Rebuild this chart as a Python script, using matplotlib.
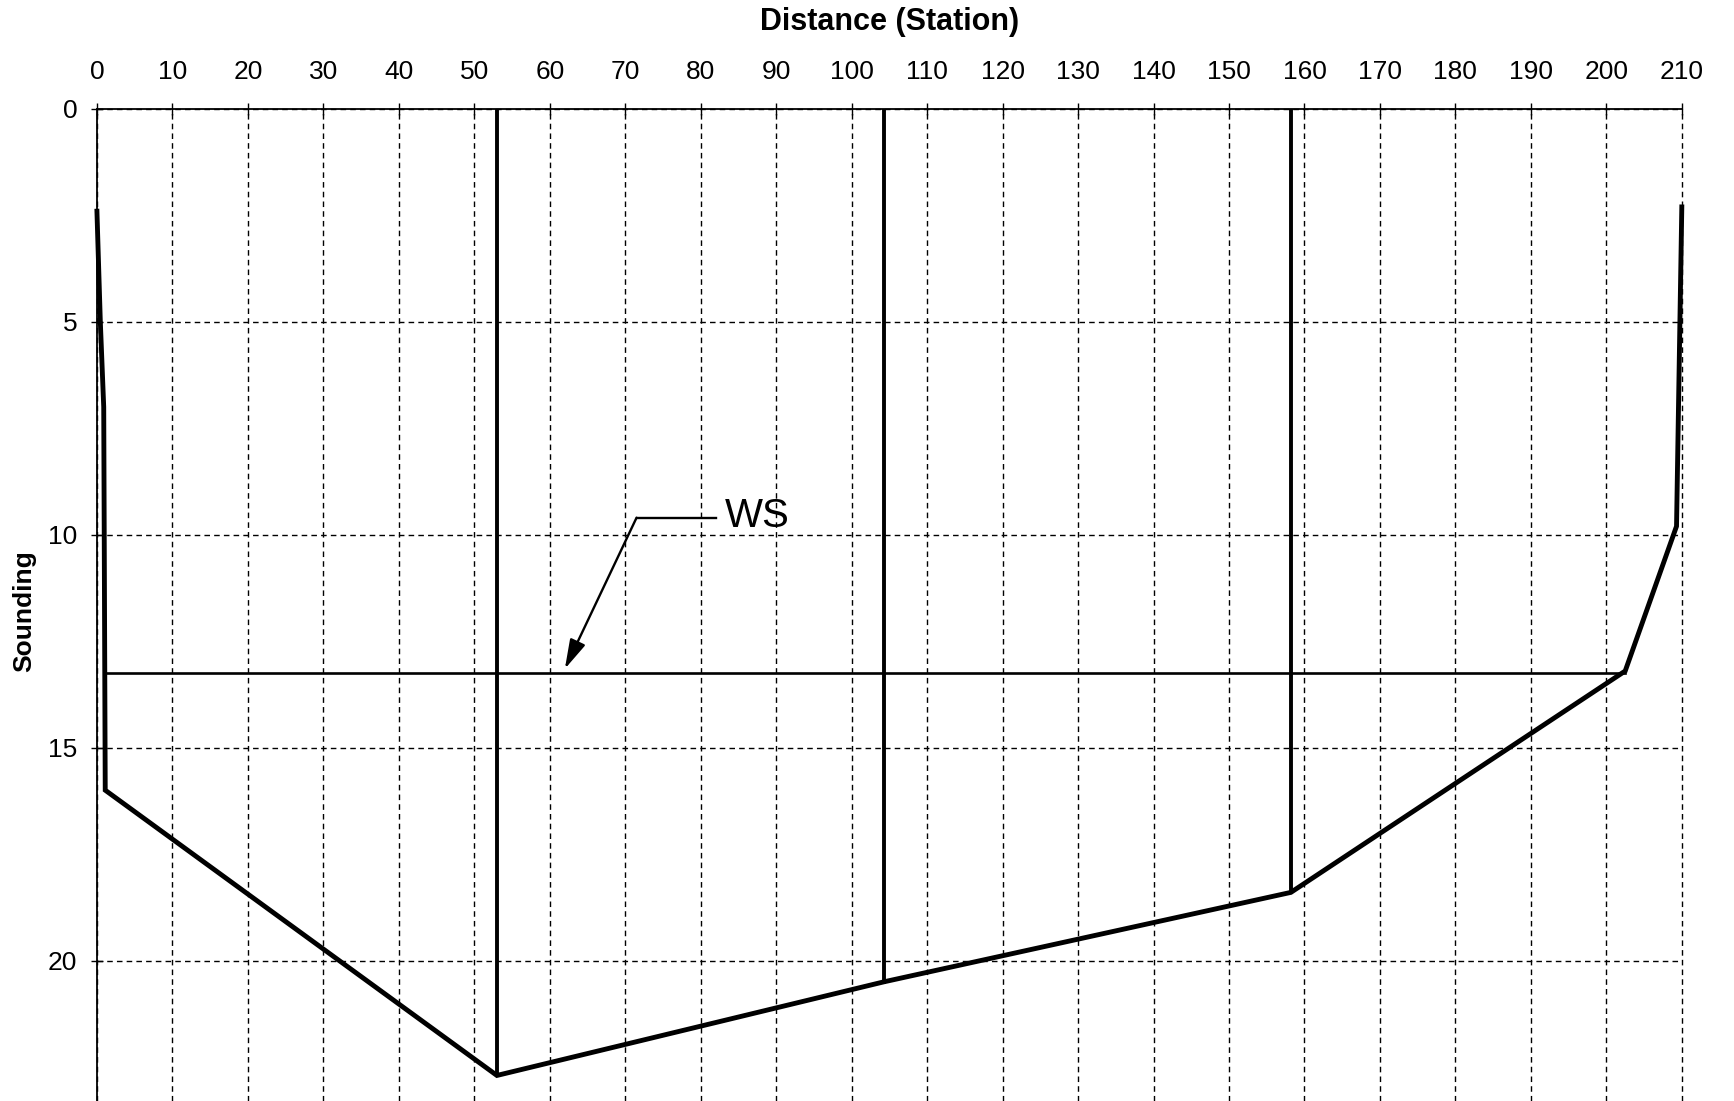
import matplotlib
matplotlib.use('Agg')
import matplotlib.pyplot as plt

plt.rcParams['font.family'] = ['Liberation Sans', 'DejaVu Sans']

# ---- data -------------------------------------------------------------
station_ticks = list(range(0, 211, 10))
depth_ticks = [0, 5, 10, 15, 20]

bed_station = [0.0, 0.45, 0.9, 1.1, 53.0, 104.3, 158.2, 202.5, 209.3, 210.0]
bed_depth = [2.4, 5.0, 7.0, 16.0, 22.7, 20.5, 18.4, 13.2, 9.8, 2.3]

vert_station = [53.0, 104.3, 158.2]
vert_top = [0.0, 0.0, 0.0]
vert_bottom = [22.7, 20.5, 18.4]

ws_station = [1.05, 202.5]
ws_depth = [13.25, 13.25]

ws_label = 'WS'
ws_text_pos = (83.2, 9.55)
ws_corner = (71.5, 9.6)
ws_leader_end = (82.0, 9.6)
ws_arrow_tip = (62.0, 13.15)

x_title = 'Distance (Station)'
y_title = 'Sounding'

# ---- figure -----------------------------------------------------------
fig = plt.figure(figsize=(17.34, 11.01), dpi=100)
ax = fig.add_axes([0.0559, 0.0, 0.914, 0.901])

ax.set_xlim(0, 210)
ax.set_ylim(23.3, 0)
ax.set_xticks(station_ticks)
ax.set_yticks(depth_ticks)
ax.xaxis.tick_top()
ax.tick_params(axis='x', direction='inout', length=8, width=1, pad=14,
               labelsize=19, colors='black')
ax.tick_params(axis='y', direction='inout', length=8, width=1, pad=10,
               labelsize=19, colors='black')

ax.grid(True, color='black', linewidth=1.0, linestyle=(0, (4, 3)))
ax.set_axisbelow(True)
for gl in ax.get_xgridlines() + ax.get_ygridlines():
    gl.set_clip_on(False)

for side in ['right', 'bottom']:
    ax.spines[side].set_visible(False)
for side in ['left', 'top']:
    ax.spines[side].set_linewidth(1.3)
    ax.spines[side].set_color('black')

# bed profile
ax.plot(bed_station, bed_depth, color='black', linewidth=3.5,
        solid_joinstyle='miter', clip_on=False, zorder=4)

# vertical section lines
for s, t, b in zip(vert_station, vert_top, vert_bottom):
    ax.plot([s, s], [t, b], color='black', linewidth=2.8, zorder=4)

# water surface
ax.plot(ws_station, ws_depth, color='black', linewidth=1.9, zorder=4)

# WS annotation
ax.plot([ws_corner[0], ws_leader_end[0]], [ws_corner[1], ws_leader_end[1]],
        color='black', linewidth=1.7, zorder=5)
ax.annotate('', xy=ws_arrow_tip, xytext=ws_corner,
            arrowprops=dict(arrowstyle='-|>,head_length=0.9,head_width=0.25',
                            mutation_scale=20, color='black', lw=1.7,
                            shrinkA=0, shrinkB=0), zorder=5)
ax.text(ws_text_pos[0], ws_text_pos[1], ws_label, fontsize=29,
        ha='left', va='center', color='black', zorder=5)

fig.text(0.513, 1 - 22 / 1101, x_title, fontsize=22, fontweight='bold',
         ha='center', va='center')
fig.text(24 / 1734, 1 - 611 / 1101, y_title, fontsize=19, fontweight='bold',
         ha='center', va='center', rotation=90)

fig.savefig('out.png', dpi=100, facecolor='white')
